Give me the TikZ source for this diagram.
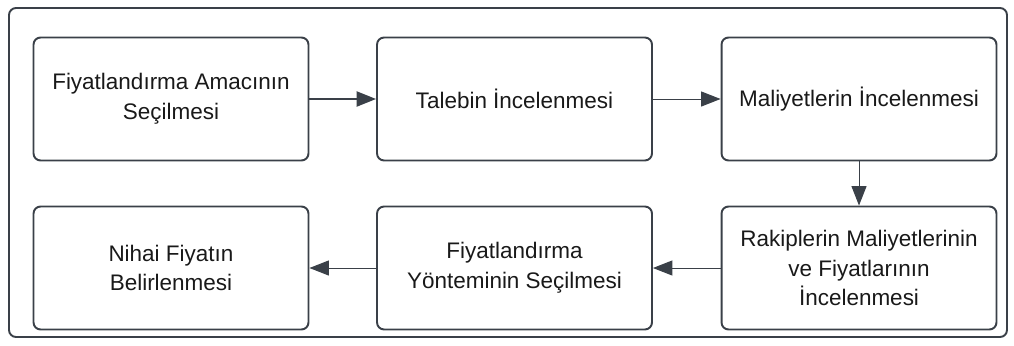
\documentclass[tikz,border=0pt]{standalone}
\usepackage{fontspec}
\setmainfont{Liberation Sans}
\usepackage{xcolor}
\usetikzlibrary{arrows.meta}
\definecolor{linegray}{HTML}{3A4048}

\begin{document}
\begin{tikzpicture}[
    x=0.02cm, y=-0.02cm,
    every node/.style={font=\fontsize{12.8}{17}\selectfont, text=black!90},
    stepbox/.style={draw=linegray, line width=1.1pt, rounded corners=4pt,
        minimum width=5.5cm, minimum height=2.46cm, align=center, inner sep=0pt},
    flow/.style={draw=linegray, line width=0.55pt, -{Triangle[length=11pt,width=8.5pt]}},
    flowthick/.style={flow, line width=1.2pt},
]
    \useasboundingbox (0,0) rectangle (1014,345);
    % outer frame
    \draw[linegray, line width=1.1pt, rounded corners=4pt] (9,8) rectangle (1007,337);

    % top row
    \node[stepbox] (amac) at (171,99) {Fiyatlandırma Amacının\\Seçilmesi};
    \node[stepbox] (talep) at (514.5,99) {Talebin İncelenmesi};
    \node[stepbox] (maliyet) at (859,99) {Maliyetlerin İncelenmesi};

    % bottom row
    \node[stepbox] (rakip) at (859,268) {Rakiplerin Maliyetlerinin\\ve Fiyatlarının\\İncelenmesi};
    \node[stepbox] (yontem) at (514.5,268) {Fiyatlandırma\\Yönteminin Seçilmesi};
    \node[stepbox] (nihai) at (171,268) {Nihai Fiyatın\\Belirlenmesi};

    % connectors
    \draw[flowthick] (amac) -- (talep);
    \draw[flow] (talep) -- (maliyet);
    \draw[flow] (maliyet) -- (rakip);
    \draw[flow] (rakip) -- (yontem);
    \draw[flow] (yontem) -- (nihai);
\end{tikzpicture}
\end{document}
